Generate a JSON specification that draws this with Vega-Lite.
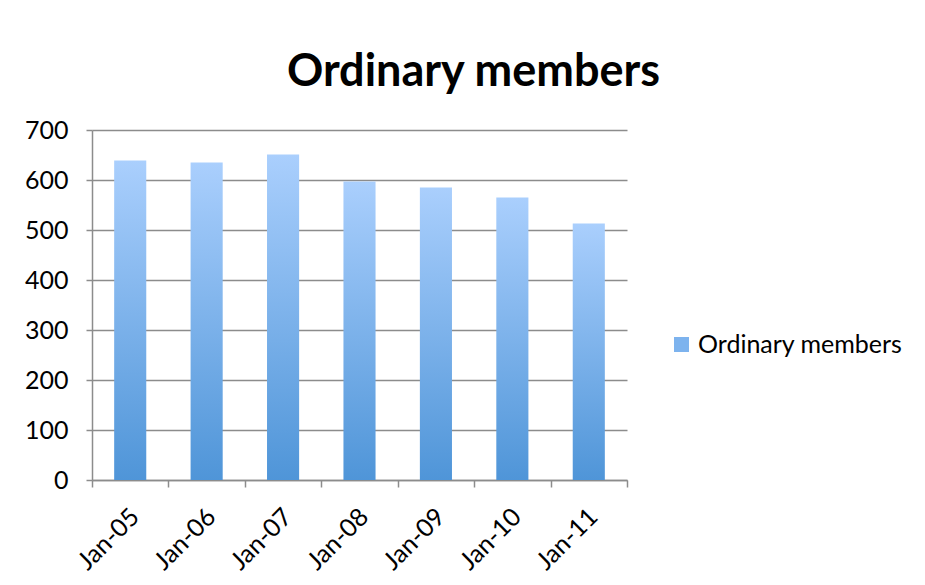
{
  "$schema": "https://vega.github.io/schema/vega-lite/v6.json",
  "width": 535,
  "height": 350,
  "autosize": {"type": "none"},
  "padding": {"left": 92, "top": 130, "right": 298, "bottom": 105},
  "background": "white",
  "title": {
    "text": "Ordinary members",
    "font": "Lato",
    "fontSize": 45,
    "fontWeight": "bold",
    "color": "black",
    "anchor": "middle",
    "frame": "group",
    "dx": 114,
    "offset": 23
  },
  "data": {
    "values": [
      {"date": "Jan-05", "members": 639, "series": "Ordinary members"},
      {"date": "Jan-06", "members": 635, "series": "Ordinary members"},
      {"date": "Jan-07", "members": 651, "series": "Ordinary members"},
      {"date": "Jan-08", "members": 597, "series": "Ordinary members"},
      {"date": "Jan-09", "members": 585, "series": "Ordinary members"},
      {"date": "Jan-10", "members": 565, "series": "Ordinary members"},
      {"date": "Jan-11", "members": 513, "series": "Ordinary members"}
    ]
  },
  "encoding": {
    "x": {
      "field": "date",
      "type": "nominal",
      "sort": null,
      "scale": {"paddingInner": 0, "paddingOuter": 0},
      "axis": {
        "title": null,
        "labelAngle": -45,
        "labelAlign": "right",
        "labelBaseline": "alphabetic",
        "labelFont": "Lato",
        "labelFontSize": 25,
        "labelColor": "black",
        "labelPadding": 31,
        "labelOffset": 10,
        "tickBand": "extent",
        "tickSize": 7,
        "tickColor": "#8c8c8c",
        "tickWidth": 1.5,
        "domainColor": "#8c8c8c",
        "domainWidth": 1.5,
        "grid": false
      }
    },
    "y": {
      "field": "members",
      "type": "quantitative",
      "scale": {"domain": [0, 700], "nice": false},
      "axis": {
        "title": null,
        "values": [0, 100, 200, 300, 400, 500, 600, 700],
        "labelFont": "Lato",
        "labelFontSize": 25,
        "labelColor": "black",
        "labelPadding": 18,
        "tickSize": 6,
        "tickColor": "#8c8c8c",
        "tickWidth": 1.5,
        "domainColor": "#8c8c8c",
        "domainWidth": 1.5,
        "grid": true,
        "gridColor": "#8c8c8c",
        "gridWidth": 1.5
      }
    }
  },
  "layer": [
    {
      "mark": {"type": "bar", "opacity": 0, "width": {"band": 0.42}},
      "encoding": {
        "color": {
          "field": "series",
          "type": "nominal",
          "scale": {"range": ["#7DB3EE"]},
          "legend": {
            "title": null,
            "orient": "none",
            "legendX": 577,
            "legendY": 202,
            "symbolType": "square",
            "symbolSize": 225,
            "symbolOpacity": 1,
            "symbolStrokeWidth": 0,
            "labelFont": "Lato",
            "labelFontSize": 25,
            "labelColor": "black",
            "labelOffset": 4,
            "labelLimit": 0
          }
        }
      }
    },
    {
      "mark": {
        "type": "bar",
        "width": {"band": 0.42},
        "color": {
          "gradient": "linear",
          "x1": 0, "y1": 0, "x2": 0, "y2": 1,
          "stops": [
            {"offset": 0, "color": "#AACFFD"},
            {"offset": 1, "color": "#4F95D8"}
          ]
        }
      }
    }
  ],
  "config": {"view": {"stroke": null}}
}
